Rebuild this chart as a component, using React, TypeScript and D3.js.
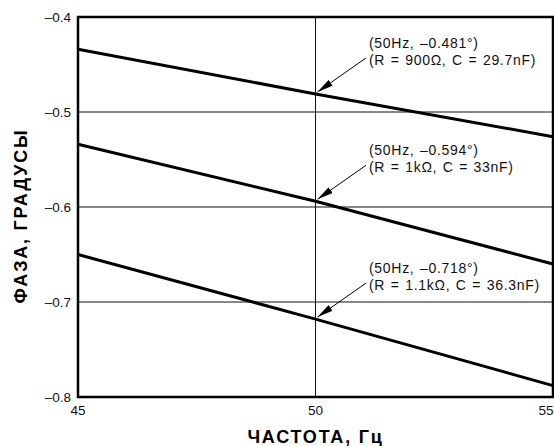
import React from "react";
import * as d3 from "d3";

// Phase vs. frequency for three RC networks
const freqs = [45, 50, 55];
const phaseR900 = [-0.434, -0.481, -0.526];
const phaseR1k = [-0.534, -0.594, -0.66];
const phaseR1k1 = [-0.65, -0.718, -0.788];
const seriesList = [phaseR900, phaseR1k, phaseR1k1];

const xTicks = [45, 50, 55];
const yTicks = [-0.4, -0.5, -0.6, -0.7, -0.8];

const noteFreq = 50;
const notePhase = [-0.481, -0.594, -0.718];
const noteLine1 = ["(50Hz, \u20130.481\u00b0)", "(50Hz, \u20130.594\u00b0)", "(50Hz, \u20130.718\u00b0)"];
const noteLine2 = [
  "(R = 900\u03a9, C = 29.7nF)",
  "(R = 1k\u03a9, C = 33nF)",
  "(R = 1.1k\u03a9, C = 36.3nF)",
];

const W = 554;
const H = 446;
const left = 78;
const right = 553;
const top = 17;
const bottom = 397;
const font = "Liberation Sans, Arial, Helvetica, sans-serif";

export default function App() {
  const x = d3.scaleLinear().domain([45, 55]).range([left, right]);
  const y = d3.scaleLinear().domain([-0.8, -0.4]).range([bottom, top]);
  const line = d3
    .line<number>()
    .x((_, i) => x(freqs[i]))
    .y((d) => y(d));

  const fmt = (v: number) => (v < 0 ? "\u2013" : "") + Math.abs(v).toFixed(1);

  return (
    <svg
      width={W}
      height={H}
      style={{ position: "absolute", left: 0, top: 0, background: "#fff" }}
      fontFamily={font}
    >
      <defs>
        <marker
          id="head"
          viewBox="0 0 16 7"
          refX="16"
          refY="3.5"
          markerWidth="16"
          markerHeight="7"
          markerUnits="userSpaceOnUse"
          orient="auto"
        >
          <path d="M0,0 L16,3.5 L0,7 Z" fill="#000" />
        </marker>
      </defs>

      {/* grid */}
      {yTicks.slice(1, -1).map((t) => (
        <line key={t} x1={left} x2={right} y1={y(t)} y2={y(t)} stroke="#111" strokeWidth={1} />
      ))}
      {xTicks.slice(1, -1).map((t) => (
        <line key={t} x1={x(t)} x2={x(t)} y1={top} y2={bottom} stroke="#111" strokeWidth={1} />
      ))}

      {/* series */}
      {seriesList.map((s, i) => (
        <path key={i} d={line(s) ?? ""} fill="none" stroke="#000" strokeWidth={3} />
      ))}

      {/* frame */}
      <rect
        x={left}
        y={top}
        width={right - left}
        height={bottom - top}
        fill="none"
        stroke="#000"
        strokeWidth={2.5}
      />

      {/* y tick labels */}
      {yTicks.map((t) => (
        <text
          key={t}
          x={71}
          y={y(t)}
          dy="0.35em"
          textAnchor="end"
          fontSize={13.5}
          fill="#111"
        >
          {fmt(t)}
        </text>
      ))}

      {/* x tick labels */}
      {xTicks.map((t) => (
        <text key={t} x={x(t) - (t === 55 ? 7 : 0)} y={415} textAnchor="middle" fontSize={13.5} fill="#111">
          {t}
        </text>
      ))}

      {/* annotations */}
      {notePhase.map((p, i) => {
        const ty = y(p) - 46;
        return (
          <g key={i} fontSize={14} letterSpacing={0.7} wordSpacing={1} fill="#111">
            <text x={369} y={ty}>
              {noteLine1[i]}
            </text>
            <text x={369} y={ty + 17}>
              {noteLine2[i]}
            </text>
            <line
              x1={366}
              y1={ty + 10}
              x2={x(noteFreq) + 2}
              y2={y(p) - 2}
              stroke="#000"
              strokeWidth={1}
              markerEnd="url(#head)"
            />
          </g>
        );
      })}

      {/* axis titles */}
      <text
        x={x(50)}
        y={443}
        textAnchor="middle"
        fontSize={18}
        letterSpacing={1.8}
        fontWeight="bold"
        fill="#000"
      >
        ЧАСТОТА, Гц
      </text>
      <text
        transform={`translate(27, 216) rotate(-90)`}
        textAnchor="middle"
        fontSize={18}
        letterSpacing={1.8}
        fontWeight="bold"
        fill="#000"
      >
        ФАЗА, ГРАДУСЫ
      </text>
    </svg>
  );
}
